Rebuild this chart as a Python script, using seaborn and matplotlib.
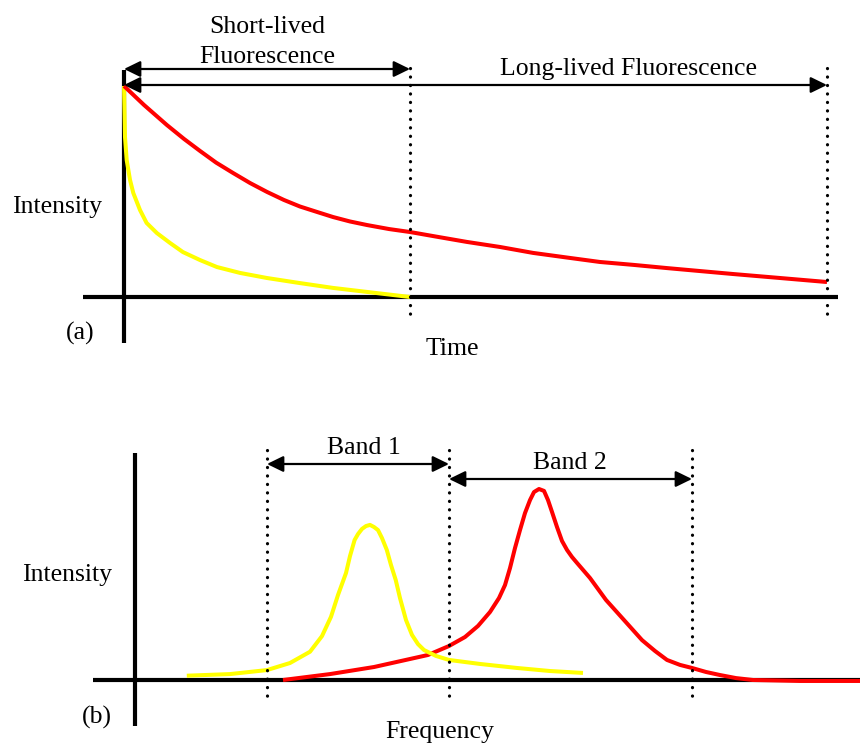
import numpy as np
import pandas as pd
import matplotlib
matplotlib.use("Agg")
import matplotlib.pyplot as plt
import seaborn as sns

# ---------------- data ----------------
# Panel (a): fluorescence decay (time in arbitrary units, intensity normalised)
short_time = [0.0, 0.035, 0.094, 0.21, 0.325, 0.56, 0.79, 1.15, 1.61, 2.06, 2.66, 3.25,
              4.06, 5.0, 6.15, 7.31, 8.5, 10.0]
short_int = [1.0, 0.758, 0.649, 0.555, 0.493, 0.412, 0.351, 0.303, 0.256, 0.213, 0.175,
             0.142, 0.114, 0.090, 0.066, 0.043, 0.024, 0.0]
long_time = [0.0, 0.70, 1.50, 2.10, 2.66, 3.22, 3.81, 4.41, 5.0, 5.59, 6.15, 6.75, 7.31,
             7.90, 8.50, 9.27, 10.0, 11.01, 11.99, 13.15, 14.30, 15.49, 16.64, 17.83,
             18.99, 20.14, 21.29, 22.94, 24.58]
long_int = [1.0, 0.910, 0.815, 0.749, 0.692, 0.637, 0.588, 0.540, 0.498, 0.460, 0.429,
            0.403, 0.379, 0.358, 0.341, 0.322, 0.308, 0.284, 0.261, 0.237, 0.209, 0.187,
            0.166, 0.152, 0.137, 0.123, 0.109, 0.090, 0.071]
window_ends = [10.0, 24.58]          # end of short-lived / long-lived windows
window_labels = ["Short-lived", "Fluorescence", "Long-lived Fluorescence"]

# Panel (b): emission spectra (frequency arbitrary units, intensity normalised)
band1_freq = [0.518, 0.95, 1.32, 1.55, 1.75, 1.87, 1.96, 2.03, 2.11, 2.15, 2.196, 2.23,
              2.27, 2.31, 2.35, 2.39, 2.43, 2.47, 2.518, 2.56, 2.607, 2.65, 2.71, 2.77,
              2.83, 2.89, 3.01, 3.14, 3.45, 3.82, 4.15, 4.48]
band1_int = [0.0225, 0.031, 0.052, 0.089, 0.148, 0.230, 0.331, 0.445, 0.560, 0.649, 0.733,
             0.764, 0.791, 0.806, 0.812, 0.801, 0.785, 0.743, 0.681, 0.602, 0.524, 0.429,
             0.314, 0.236, 0.188, 0.157, 0.126, 0.105, 0.084, 0.063, 0.047, 0.037]
band2_freq = [1.48, 1.95, 2.39, 2.93, 3.14, 3.30, 3.43, 3.55, 3.64, 3.70, 3.75, 3.80, 3.85,
              3.90, 3.95, 3.99, 4.04, 4.09, 4.13, 4.17, 4.22, 4.27, 4.32, 4.37, 4.42, 4.55,
              4.71, 4.89, 5.07, 5.20, 5.32, 5.45, 5.57, 5.71, 5.85, 6.01, 6.18, 6.65, 7.25]
band2_int = [0.0, 0.031, 0.068, 0.131, 0.178, 0.225, 0.283, 0.356, 0.429, 0.497, 0.586,
             0.691, 0.785, 0.874, 0.942, 0.984, 1.0, 0.990, 0.942, 0.880, 0.801, 0.728,
             0.681, 0.644, 0.613, 0.534, 0.419, 0.314, 0.209, 0.152, 0.105, 0.079, 0.063,
             0.042, 0.026, 0.010, 0.0, -0.005, -0.005]
band_edges = [1.32, 3.14, 5.57]
band_labels = ["Band 1", "Band 2"]

# ---------------- layout helpers (pixel space of an 860x744 image) ----------------
W, H = 860, 744
A_X0, A_Y0, A_TX, A_IY = 124, 297, 28.6, 211   # origin & scale of panel (a)
B_X0, B_Y0, B_FX, B_IY = 135, 680, 100, 191    # origin & scale of panel (b)

sns.set_theme(style="white")
plt.rcParams["font.family"] = ["Liberation Serif", "DejaVu Serif"]
plt.rcParams["text.color"] = "black"

fig = plt.figure(figsize=(W / 100, H / 100), dpi=100)
fig.patch.set_facecolor("white")

axA = fig.add_axes([0, 0, 1, 1])
axA.set_xlim(-A_X0 / A_TX, (W - A_X0) / A_TX)
axA.set_ylim(-(H - A_Y0) / A_IY, A_Y0 / A_IY)
axA.set_axis_off()

axB = fig.add_axes([0, 0, 1, 1])
axB.patch.set_alpha(0)
axB.set_xlim(-B_X0 / B_FX, (W - B_X0) / B_FX)
axB.set_ylim(-(H - B_Y0) / B_IY, B_Y0 / B_IY)
axB.set_axis_off()


def ax_a_y(ypx):
    return (A_Y0 - ypx) / A_IY


def ax_a_x(xpx):
    return (xpx - A_X0) / A_TX


def ax_b_y(ypx):
    return (B_Y0 - ypx) / B_IY


def ax_b_x(xpx):
    return (xpx - B_X0) / B_FX


AX_LW = 3.0
CURVE_LW = 2.9
RED = "#FF0000"
YEL = "#FFFF00"
line_kw = dict(solid_joinstyle="round", solid_capstyle="butt")

# ---------- panel (a) ----------
axA.plot([ax_a_x(83), ax_a_x(838)], [0, 0], color="black", lw=AX_LW, zorder=1,
         solid_capstyle="butt")
axA.plot([0, 0], [ax_a_y(70), ax_a_y(343)], color="black", lw=AX_LW, zorder=1,
         solid_capstyle="butt")

dfa_s = pd.DataFrame({"t": short_time, "I": short_int})
dfa_l = pd.DataFrame({"t": long_time, "I": long_int})
sns.lineplot(data=dfa_s, x="t", y="I", sort=False, color=YEL, lw=CURVE_LW, ax=axA,
             zorder=2, **line_kw)
sns.lineplot(data=dfa_l, x="t", y="I", sort=False, color=RED, lw=CURVE_LW, ax=axA,
             zorder=2, **line_kw)

for te in window_ends:
    axA.plot([te, te], [ax_a_y(68), ax_a_y(320)], color="black", lw=2.3,
             ls=(0, (0.05, 2.6)), dash_capstyle="round", zorder=3)

arrow_kw = dict(arrowstyle="<|-|>,head_length=0.45,head_width=0.22", color="black",
                lw=1.6, shrinkA=0, shrinkB=0, mutation_scale=22)
for te, ypx in zip(window_ends, [69, 85]):
    axA.annotate("", xy=(te, ax_a_y(ypx)), xytext=(0, ax_a_y(ypx)),
                 arrowprops=arrow_kw, zorder=4)

FS = 18.5
axA.text(ax_a_x(267), ax_a_y(33), window_labels[0], ha="center", va="baseline", fontsize=FS)
axA.text(ax_a_x(267), ax_a_y(63), window_labels[1], ha="center", va="baseline", fontsize=FS)
axA.text(ax_a_x(628), ax_a_y(75), window_labels[2], ha="center", va="baseline", fontsize=FS)
axA.text(ax_a_x(57), ax_a_y(213), "Intensity", ha="center", va="baseline", fontsize=FS)
axA.text(ax_a_x(80), ax_a_y(340), "(a)", ha="center", va="baseline", fontsize=FS)
axA.text(ax_a_x(452), ax_a_y(355), "Time", ha="center", va="baseline", fontsize=FS)

# ---------- panel (b) ----------
axB.plot([ax_b_x(93), ax_b_x(860)], [0, 0], color="black", lw=AX_LW, zorder=1,
         solid_capstyle="butt")
axB.plot([0, 0], [ax_b_y(453), ax_b_y(726)], color="black", lw=AX_LW, zorder=1,
         solid_capstyle="butt")

dfb_1 = pd.DataFrame({"f": band1_freq, "I": band1_int})
dfb_2 = pd.DataFrame({"f": band2_freq, "I": band2_int})
sns.lineplot(data=dfb_2, x="f", y="I", sort=False, color=RED, lw=CURVE_LW, ax=axB,
             zorder=2, **line_kw)
sns.lineplot(data=dfb_1, x="f", y="I", sort=False, color=YEL, lw=CURVE_LW, ax=axB,
             zorder=2, **line_kw)

for fe in band_edges:
    axB.plot([fe, fe], [ax_b_y(450), ax_b_y(702)], color="black", lw=2.3,
             ls=(0, (0.05, 2.6)), dash_capstyle="round", zorder=3)

for (f0, f1), ypx in zip([(band_edges[0], band_edges[1]), (band_edges[1], band_edges[2])],
                         [464, 479]):
    axB.annotate("", xy=(f1, ax_b_y(ypx)), xytext=(f0, ax_b_y(ypx)),
                 arrowprops=arrow_kw, zorder=4)

axB.text(ax_b_x(364), ax_b_y(454), band_labels[0], ha="center", va="baseline", fontsize=FS)
axB.text(ax_b_x(570), ax_b_y(469), band_labels[1], ha="center", va="baseline", fontsize=FS)
axB.text(ax_b_x(67), ax_b_y(581), "Intensity", ha="center", va="baseline", fontsize=FS)
axB.text(ax_b_x(97), ax_b_y(724), "(b)", ha="center", va="baseline", fontsize=FS)
axB.text(ax_b_x(440), ax_b_y(738), "Frequency", ha="center", va="baseline", fontsize=FS)

for ax in (axA, axB):
    leg = ax.get_legend()
    if leg is not None:
        leg.remove()

fig.savefig("out.png", dpi=100, facecolor="white")
